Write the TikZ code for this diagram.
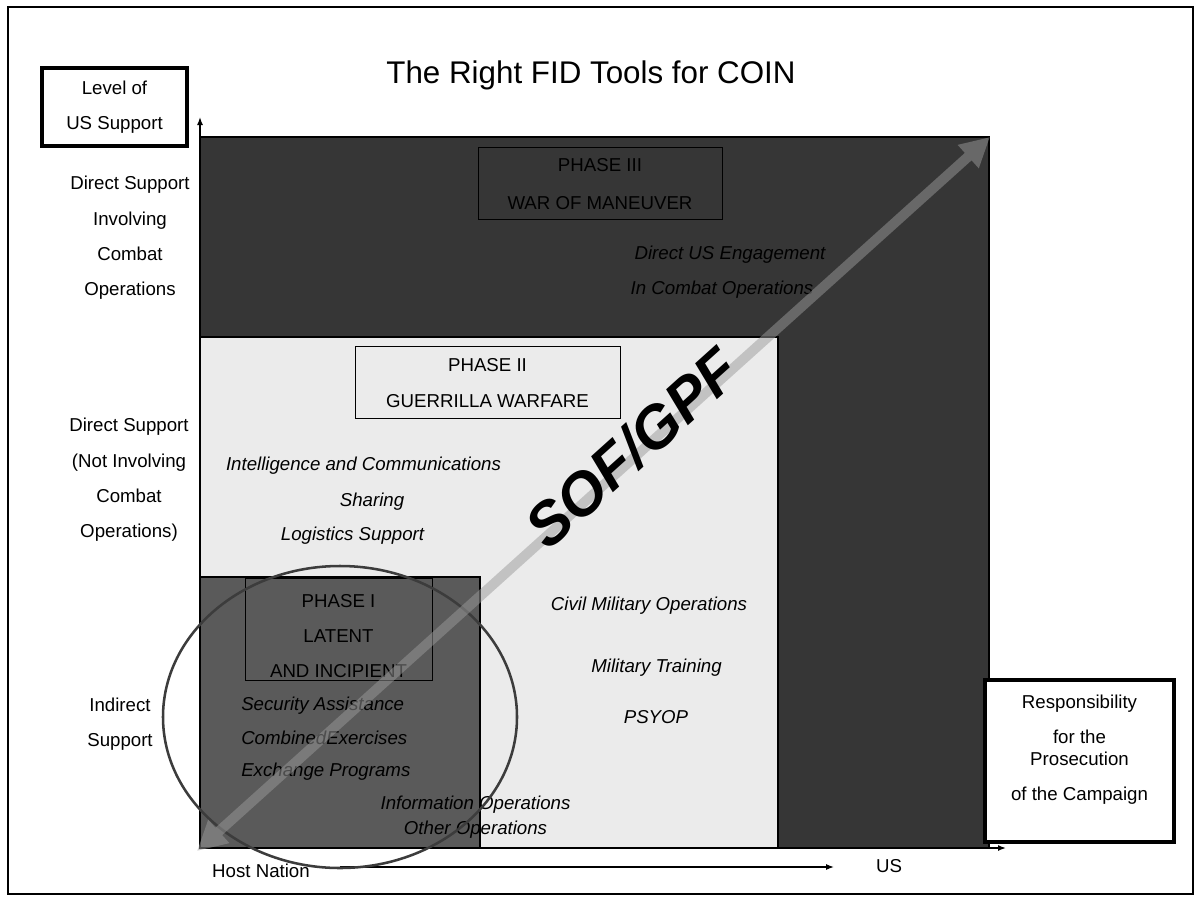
\documentclass[tikz,border=0pt]{standalone}
\usepackage{fontspec}
\setmainfont{Liberation Sans}
\usetikzlibrary{arrows.meta}
\definecolor{dkIII}{HTML}{363636}
\definecolor{ltII}{HTML}{EBEBEB}
\definecolor{mdI}{HTML}{5A5A5A}
\definecolor{arrowgray}{HTML}{9A9A9A}
\definecolor{ringgray}{HTML}{3C3C3C}
\tikzset{
  body/.style={font=\fontsize{14pt}{26.5pt}\selectfont, align=center, inner sep=0pt},
  ibody/.style={font=\fontsize{14pt}{26.5pt}\selectfont\itshape, align=center, inner sep=0pt},
  phasebox/.style={draw=black, line width=0.75pt, rectangle, inner sep=0pt},
  thickbox/.style={draw=black, line width=2.3pt, rectangle, fill=white, inner sep=0pt},
  axis/.style={draw=black, line width=1.1pt, -{Latex[length=6pt,width=4.5pt]}},
  bigarrow/.style={draw=arrowgray, line width=7.5pt,
     {Triangle[length=22pt,width=22pt]}-{Triangle[length=22pt,width=22pt]}}
}
\begin{document}
\begin{tikzpicture}[x=0.75pt,y=-0.75pt]
\useasboundingbox (0,0) rectangle (1195,896);
\fill[white] (0,0) rectangle (1195,896);
% outer frame
\draw[line width=1.6pt] (8,7) rectangle (1193,894);
% title
\node[font=\fontsize{23.5pt}{28pt}\selectfont, inner sep=0pt] (title) at (591,75) {The Right FID Tools for COIN};
% phase regions
\draw[fill=dkIII, line width=0.9pt] (200,137) rectangle (989,848);
\draw[fill=ltII, line width=0.9pt] (200,337) rectangle (778,848);
\draw[fill=mdI, line width=0.9pt] (200,577) rectangle (480,848);
% axes
\coordinate (origin) at (200,848);
\coordinate (ytop) at (200,117);
\coordinate (xend) at (1006,848);
\draw[axis] (origin) -- (ytop);
\draw[axis] (origin) -- (xend);
% level box
\node[thickbox, minimum width=108.75pt, minimum height=58.5pt] (levelbox) at (114.5,107) {};
\node[body] (leveltxt) at (114.5,107.5) {Level of\\US Support};
% responsibility box
\node[thickbox, minimum width=141.75pt, minimum height=121.5pt] (respbox) at (1079.5,761) {};
\node[body] (resptxt) at (1079.5,749.5) {Responsibility\\for the\\[-10.5pt]Prosecution\\of the Campaign};
% left labels
\node[body] (lab3) at (130,238) {Direct Support\\Involving\\Combat\\Operations};
\node[body] (lab2) at (129,480) {Direct Support\\(Not Involving\\Combat\\Operations)};
\node[body] (lab1) at (120,724) {Indirect\\Support};
% bottom labels
\node[body] (host) at (261,871) {Host Nation};
\node[body] (us) at (889,866) {US};
\coordinate (hl1) at (340,867);
\coordinate (hl2) at (834,867);
\draw[line width=0.9pt, -{Latex[length=6pt,width=4.5pt]}] (hl1) -- (hl2);
% phase boxes
\node[phasebox, minimum width=183pt, minimum height=54pt] (p3box) at (600,183) {};
\node[body, font=\fontsize{14pt}{28.5pt}\selectfont] (p3txt) at (600,184) {PHASE III\\WAR OF MANEUVER};
\node[phasebox, minimum width=198.75pt, minimum height=54pt] (p2box) at (487.5,382) {};
\node[body] (p2txt) at (487.5,383) {PHASE II\\GUERRILLA WARFARE};
\node[phasebox, minimum width=140.25pt, minimum height=76.5pt] (p1box) at (338.5,629) {};
\node[body] (p1txt) at (338.5,636) {PHASE I\\LATENT\\AND INCIPIENT};
% phase III texts
\node[ibody] (d1) at (730,255) {Direct US Engagement};
\node[ibody] (d2) at (722,290) {In Combat Operations};
% phase II texts
\node[ibody] (i1) at (363.5,466) {Intelligence and Communications};
\node[ibody] (i2) at (372,502) {Sharing};
\node[ibody] (i3) at (352.5,536) {Logistics Support};
\node[ibody] (c1) at (649,606) {Civil Military Operations};
\node[ibody] (c2) at (656.5,668) {Military Training};
\node[ibody] (c3) at (656,717) {PSYOP};
\node[ibody] (o1) at (475.5,805) {Information Operations};
\node[ibody] (o2) at (475.5,830) {Other Operations};
% phase I texts
\node[ibody, anchor=west] (s1) at (241,706) {Security Assistance};
\node[ibody, anchor=west] (s2) at (241,738) {CombinedExercises};
\node[ibody, anchor=west] (s3) at (241,772) {Exchange Programs};
% ring
\draw[ringgray, line width=1.9pt] (340,717) ellipse [x radius=177, y radius=151];
% big arrow
\coordinate (a1) at (197,851);
\coordinate (a2) at (990,137);
\begin{scope}[transparency group, opacity=0.5]
\draw[bigarrow] (a1) -- (a2);
\end{scope}
% SOF/GPF
\node[font=\fontsize{45pt}{45pt}\selectfont\bfseries\itshape, rotate=42, inner sep=0pt] (sof) at (632,448) {SOF/GPF};
\end{tikzpicture}
\end{document}
